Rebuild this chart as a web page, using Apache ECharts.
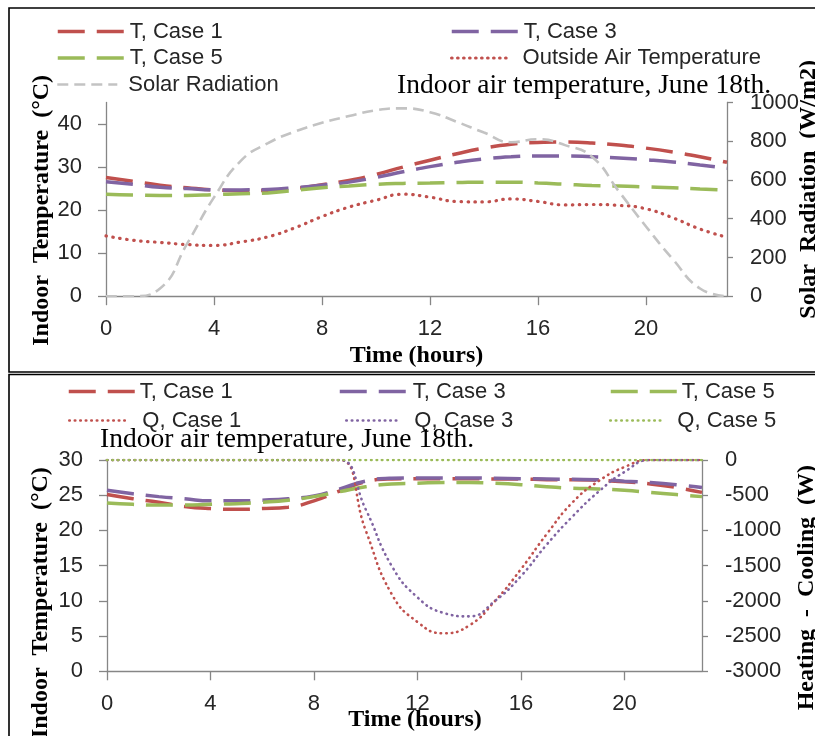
<!DOCTYPE html>
<html>
<head>
<meta charset="utf-8">
<script src="https://cdn.jsdelivr.net/npm/echarts@6/dist/echarts.min.js"></script>
<style>
  html, body { margin: 0; padding: 0; background: #fff; }
  #chart { width: 815px; height: 736px; }
</style>
</head>
<body>
<div id="chart"></div>
<script>
// Hour of day (x values shared by both panels)
const hours = [0, 1, 2, 3, 4, 5, 6, 7, 8, 9, 10, 11, 12, 13, 14, 15, 16, 17, 18, 19, 20, 21, 22, 23];
const hourTicks = [0, 4, 8, 12, 16, 20];

// Upper panel: free-floating indoor temperature (°C), outside air (°C), solar radiation (W/m2)
const tempCase1Free = [27.6, 26.7, 25.8, 25.2, 24.7, 24.5, 24.6, 25.0, 25.9, 26.9, 28.3, 30.0, 31.6, 33.1, 34.4, 35.3, 35.7, 35.8, 35.6, 35.1, 34.4, 33.5, 32.4, 31.1];
const tempCase3Free = [26.6, 26.0, 25.3, 25.0, 24.7, 24.7, 24.8, 25.2, 25.8, 26.5, 27.6, 28.9, 30.1, 31.1, 31.9, 32.4, 32.6, 32.6, 32.4, 32.1, 31.7, 31.2, 30.5, 29.7];
const tempCase5Free = [23.7, 23.5, 23.4, 23.4, 23.6, 23.8, 24.0, 24.6, 25.2, 25.6, 26.0, 26.2, 26.3, 26.4, 26.5, 26.5, 26.3, 26.0, 25.7, 25.6, 25.4, 25.2, 24.9, 24.6];
const outsideAirTemp = [14.0, 13.0, 12.5, 12.0, 11.8, 12.6, 13.8, 15.9, 18.5, 20.7, 22.3, 23.7, 23.0, 22.0, 21.9, 22.6, 22.0, 21.2, 21.3, 21.1, 20.3, 18.2, 15.6, 13.7];
const solarRadiation = [0, 0, 40, 270, 510, 700, 790, 850, 895, 930, 960, 970, 950, 900, 845, 795, 810, 780, 720, 540, 360, 190, 40, 0];

// Lower panel: conditioned indoor temperature (°C) and heating/cooling load (W)
const tempCase1Hvac = [25.1, 24.5, 24.0, 23.4, 23.1, 23.0, 23.1, 23.3, 24.2, 25.6, 26.9, 27.3, 27.35, 27.35, 27.35, 27.3, 27.3, 27.2, 27.2, 27.1, 26.9, 26.6, 26.1, 25.4];
const tempCase3Hvac = [25.7, 25.2, 24.8, 24.5, 24.2, 24.2, 24.3, 24.5, 24.9, 25.9, 27.0, 27.4, 27.45, 27.45, 27.45, 27.4, 27.35, 27.3, 27.25, 27.2, 27.0, 26.8, 26.5, 26.1];
const tempCase5Hvac = [23.9, 23.7, 23.6, 23.6, 23.7, 23.8, 24.0, 24.3, 24.8, 25.5, 26.2, 26.6, 26.7, 26.8, 26.8, 26.7, 26.5, 26.2, 26.0, 25.9, 25.7, 25.4, 25.1, 24.8];
const loadCase1 = [0, 0, 0, 0, 0, 0, 0, 0, 0, 0, -1000, -1900, -2300, -2460, -2350, -2000, -1550, -1050, -600, -300, -100, 0, 0, 0];
const loadCase3 = [0, 0, 0, 0, 0, 0, 0, 0, 0, 0, -700, -1500, -1950, -2170, -2220, -2000, -1650, -1200, -800, -450, -170, 0, 0, 0];
const loadCase5 = [0, 0, 0, 0, 0, 0, 0, 0, 0, 0, 0, 0, 0, 0, 0, 0, 0, 0, 0, 0, 0, 0, 0, 0];

// Tick labels
const tempTicksFree = [0, 10, 20, 30, 40];
const solarTicks = [0, 200, 400, 600, 800, 1000];
const tempTicksHvac = [0, 5, 10, 15, 20, 25, 30];
const loadTicks = [-3000, -2500, -2000, -1500, -1000, -500, 0];

const RED = '#c0504d', PURPLE = '#8064a2', GREEN = '#9bbb59', GREY = '#c3c3c3';
const AXIS_GREY = '#868686';
const SANS = 'Liberation Sans, Arial, sans-serif';
const SERIF = 'Liberation Serif, Times New Roman, serif';
const DASH = [27, 12];
const DOT = [0.5, 6.5];
const SMALL_DOT = [0.5, 5];
const GREY_DASH = [11, 6];

const pairs = arr => hours.map((h, i) => [h, arr[i]]);

function xAxisFor(grid, nameGap, namePad) {
  return {
    gridIndex: grid, type: 'value', min: 0, max: 23, interval: 4,
    axisLine: { show: true, lineStyle: { color: AXIS_GREY, width: 1.3 } },
    axisTick: { show: true, length: 9, customValues: hourTicks, lineStyle: { color: AXIS_GREY, width: 1.3 } },
    axisLabel: { customValues: hourTicks, margin: 22, fontSize: 22, fontFamily: SANS, color: '#262626',
                 formatter: v => (v === 23 ? '' : String(v)) },
    splitLine: { show: false },
    name: 'Time (hours)', nameLocation: 'middle', nameGap: nameGap, nameMoveOverlap: false,
    nameTextStyle: { fontFamily: SERIF, fontWeight: 'bold', fontSize: 24, color: '#000', padding: namePad }
  };
}

function yAxisFor(grid, side, min, max, interval, ticks, name, nameGap, namePad) {
  return {
    gridIndex: grid, type: 'value', position: side, min: min, max: max, interval: interval,
    axisLine: { show: true, lineStyle: { color: AXIS_GREY, width: 1.3 } },
    axisTick: { show: true, length: side === 'left' ? 8 : 6, customValues: ticks, lineStyle: { color: AXIS_GREY, width: 1.3 } },
    axisLabel: { customValues: ticks, margin: side === 'left' ? 24 : 23, fontSize: 22, fontFamily: SANS, color: '#262626',
                 formatter: v => (ticks.indexOf(v) >= 0 ? String(v) : '') },
    splitLine: { show: false },
    name: name, nameLocation: 'middle', nameRotate: 90, nameGap: nameGap, nameMoveOverlap: false,
    nameTextStyle: { fontFamily: SERIF, fontWeight: 'bold', fontSize: 24, color: '#000', padding: namePad }
  };
}

function lineSeries(name, data, xIdx, yIdx, color, width, type, cap, z) {
  return {
    name: name, type: 'line', xAxisIndex: xIdx, yAxisIndex: yIdx,
    data: pairs(data), smooth: true, symbol: 'none', showSymbol: false, z: z,
    lineStyle: { color: color, width: width, type: type, cap: cap },
    itemStyle: { color: color },
    emphasis: { disabled: true }
  };
}

// One legend block per entry so each key sits where the layout needs it
function legendItem(name, left, top, itemWidth, textPad, color, width, type, cap) {
  return {
    data: [name], left: left, top: top, padding: 0, orient: 'horizontal',
    itemWidth: itemWidth, itemHeight: 24, selectedMode: false,
    itemStyle: { opacity: 0, borderWidth: 0 },
    lineStyle: { color: color, width: width, type: type, cap: cap, opacity: 1 },
    textStyle: { fontFamily: SANS, fontSize: 22, color: '#262626', padding: [0, 0, 0, textPad] }
  };
}

const chart = echarts.init(document.getElementById('chart'), null, { renderer: 'canvas' });

chart.setOption({
  animation: false,
  backgroundColor: '#ffffff',
  graphic: [
    { type: 'rect', shape: { x: 9, y: 8, width: 820, height: 364 }, style: { fill: null, stroke: '#000', lineWidth: 1.6 }, z: -1 },
    { type: 'rect', shape: { x: 9, y: 374.5, width: 820, height: 380 }, style: { fill: null, stroke: '#000', lineWidth: 1.6 }, z: -1 }
  ],
  title: [
    { text: 'Indoor air temperature, June 18th.', left: 397, top: 72, padding: 0,
      textStyle: { fontFamily: SERIF, fontWeight: 'normal', fontSize: 27.5, color: '#000' } },
    { text: 'Indoor air temperature, June 18th.', left: 100, top: 426, padding: 0,
      textStyle: { fontFamily: SERIF, fontWeight: 'normal', fontSize: 27.5, color: '#000' } }
  ],
  legend: [
    legendItem('T, Case 1', 56, 20.5, 67, 0, RED, 3.5, DASH, 'butt'),
    legendItem('T, Case 3', 450, 20.5, 67, 0, PURPLE, 3.5, DASH, 'butt'),
    legendItem('T, Case 5', 56, 47, 67, 0, GREEN, 3.5, DASH, 'butt'),
    legendItem('Outside Air Temperature', 450, 47, 60, 6, RED, 3.2, [0.5, 5.5], 'round'),
    legendItem('Solar Radiation', 56, 73.5, 60, 6, GREY, 2.6, GREY_DASH, 'butt'),
    legendItem('T, Case 1', 67, 380.5, 66, 0, RED, 3.5, DASH, 'butt'),
    legendItem('T, Case 3', 338, 380.5, 68, 0, PURPLE, 3.5, DASH, 'butt'),
    legendItem('T, Case 5', 609, 380.5, 66, 0, GREEN, 3.5, DASH, 'butt'),
    legendItem('Q, Case 1', 68, 409.5, 57, 11, RED, 2.6, SMALL_DOT, 'round'),
    legendItem('Q, Case 3', 345, 409.5, 55, 8, PURPLE, 2.6, SMALL_DOT, 'round'),
    legendItem('Q, Case 5', 609, 409.5, 54, 8, GREEN, 2.6, SMALL_DOT, 'round')
  ],
  grid: [
    { left: 106, right: 88, top: 102.5, height: 193.7, outerBoundsMode: 'none', containLabel: false },
    { left: 107, right: 113, top: 460, height: 211.3, outerBoundsMode: 'none', containLabel: false }
  ],
  xAxis: [
    xAxisFor(0, 48, [0, 0, 0, 0]),
    xAxisFor(1, 36, [0, 0, 0, 21])
  ],
  yAxis: [
    yAxisFor(0, 'left', 0, 45, 10, tempTicksFree, 'Indoor  Temperature  (°C)', 52, [0, 22, 0, 0]),
    yAxisFor(0, 'right', 0, 1000, 200, solarTicks, 'Solar  Radiation  (W/m2)', 70, [0, 0, 0, 20]),
    yAxisFor(1, 'left', 0, 30, 5, tempTicksHvac, 'Indoor  Temperature  (°C)', 54, [0, 74, 0, 0]),
    yAxisFor(1, 'right', -3000, 0, 500, loadTicks, 'Heating  -  Cooling  (W)', 93, [0, 44, 0, 0])
  ],
  series: [
    lineSeries('T, Case 1', tempCase1Free, 0, 0, RED, 3.5, DASH, 'butt', 3),
    lineSeries('T, Case 3', tempCase3Free, 0, 0, PURPLE, 3.5, DASH, 'butt', 3),
    lineSeries('T, Case 5', tempCase5Free, 0, 0, GREEN, 3.5, DASH, 'butt', 3),
    lineSeries('Outside Air Temperature', outsideAirTemp, 0, 0, RED, 3.2, DOT, 'round', 3),
    lineSeries('Solar Radiation', solarRadiation, 0, 1, GREY, 2.6, GREY_DASH, 'butt', 4),
    lineSeries('T, Case 1', tempCase1Hvac, 1, 2, RED, 3.5, DASH, 'butt', 3),
    lineSeries('T, Case 3', tempCase3Hvac, 1, 2, PURPLE, 3.5, DASH, 'butt', 3),
    lineSeries('T, Case 5', tempCase5Hvac, 1, 2, GREEN, 3.5, DASH, 'butt', 3),
    lineSeries('Q, Case 1', loadCase1, 1, 3, RED, 2.6, SMALL_DOT, 'round', 4),
    lineSeries('Q, Case 3', loadCase3, 1, 3, PURPLE, 2.6, SMALL_DOT, 'round', 4),
    lineSeries('Q, Case 5', loadCase5, 1, 3, GREEN, 2.6, SMALL_DOT, 'round', 5)
  ]
});
</script>
</body>
</html>
